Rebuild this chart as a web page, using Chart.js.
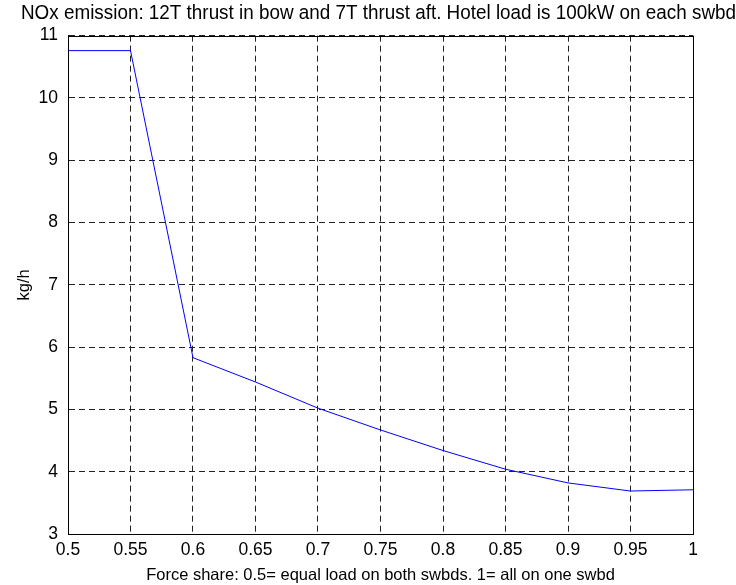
<!DOCTYPE html>
<html lang="en">
<head>
    <meta charset="UTF-8">
    <title>NOx emission</title>
    <script src="https://cdn.jsdelivr.net/npm/chart.js"></script>
    <style>
        body {
            margin: 0;
            background-color: #fff;
        }
    </style>
</head>
<body>
    <canvas id="noxChart" width="736" height="585"></canvas>

    <script>
        // force share (x) and NOx emission in kg/h (y)
        const forceShare = [0.5, 0.55, 0.6, 0.65, 0.7, 0.75, 0.8, 0.85, 0.9, 0.95, 1];
        const noxKgh = [10.76, 10.76, 5.83, 5.44, 5.02, 4.67, 4.34, 4.04, 3.82, 3.69, 3.71];

        const xTicks = [0.5, 0.55, 0.6, 0.65, 0.7, 0.75, 0.8, 0.85, 0.9, 0.95, 1];
        const xTickLabels = ['0.5', '0.55', '0.6', '0.65', '0.7', '0.75', '0.8', '0.85', '0.9', '0.95', '1'];
        const yTicks = [3, 4, 5, 6, 7, 8, 9, 10, 11];
        const yTickLabels = ['3', '4', '5', '6', '7', '8', '9', '10', '11'];

        const family = "'Liberation Sans', Arial, sans-serif";
        const tickFont = { family: family, size: 17.5 };
        const labelFont = { family: family, size: 16.5 };

        // solid box around the plot, like matlab's axes
        const framePlugin = {
            id: 'frame',
            afterDraw(chart) {
                const { ctx, chartArea: a } = chart;
                ctx.save();
                ctx.strokeStyle = '#000';
                ctx.lineWidth = 1;
                ctx.strokeRect(Math.round(a.left) + 0.5, Math.round(a.top) + 0.5,
                    Math.round(a.right - a.left), Math.round(a.bottom - a.top));
                ctx.restore();
            }
        };

        const createChart = () => {
            const ctx = document.getElementById('noxChart').getContext('2d');
            new Chart(ctx, {
                type: 'line',
                data: {
                    datasets: [{
                        data: forceShare.map((x, i) => ({ x: x, y: noxKgh[i] })),
                        borderColor: '#0000ff',
                        borderWidth: 1,
                        pointRadius: 0,
                        tension: 0,
                        fill: false
                    }]
                },
                options: {
                    responsive: false,
                    animation: false,
                    events: [],
                    // left padding puts the title centre where matlab had it
                    layout: { padding: { left: 21, right: 0, top: 0, bottom: 0 } },
                    plugins: {
                        legend: { display: false },
                        tooltip: { enabled: false },
                        title: {
                            display: true,
                            text: 'NOx emission: 12T thrust in bow and 7T thrust aft. Hotel load is 100kW on each swbd',
                            color: '#000',
                            font: { family: family, size: 19.3, weight: 'normal' },
                            padding: { top: 2, bottom: 10.5 }
                        }
                    },
                    scales: {
                        x: {
                            type: 'linear',
                            min: 0.5,
                            max: 1,
                            afterBuildTicks: (scale) => { scale.ticks = xTicks.map(v => ({ value: v })); },
                            afterFit: (scale) => { scale.height = 51; },
                            ticks: {
                                color: '#000',
                                font: tickFont,
                                padding: 6,
                                maxRotation: 0,
                                callback: (v, i) => xTickLabels[i]
                            },
                            grid: { color: '#222', drawTicks: false },
                            border: { display: true, color: '#000', dash: [6, 4] },
                            title: {
                                display: true,
                                text: 'Force share: 0.5= equal load on both swbds. 1= all on one swbd',
                                color: '#000',
                                font: labelFont,
                                padding: { top: 0, bottom: 0 }
                            }
                        },
                        y: {
                            min: 3,
                            max: 11,
                            afterBuildTicks: (scale) => { scale.ticks = yTicks.map(v => ({ value: v })); },
                            afterFit: (scale) => { scale.width = 47; },
                            ticks: {
                                color: '#000',
                                font: tickFont,
                                padding: 10,
                                callback: (v, i) => yTickLabels[i]
                            },
                            grid: { color: '#222', drawTicks: false },
                            border: { display: true, color: '#000', dash: [6, 4] },
                            title: {
                                display: true,
                                text: 'kg/h',
                                color: '#000',
                                font: labelFont,
                                padding: { top: -6, bottom: 0 }
                            }
                        },
                        // empty right-hand axis, only keeps the margin on the right
                        yRight: {
                            position: 'right',
                            min: 3,
                            max: 11,
                            afterFit: (scale) => { scale.width = 43; },
                            ticks: { display: false },
                            grid: { display: false },
                            border: { display: false }
                        }
                    }
                },
                plugins: [framePlugin]
            });
        };

        window.onload = () => {
            createChart();
        };
    </script>
</body>
</html>
